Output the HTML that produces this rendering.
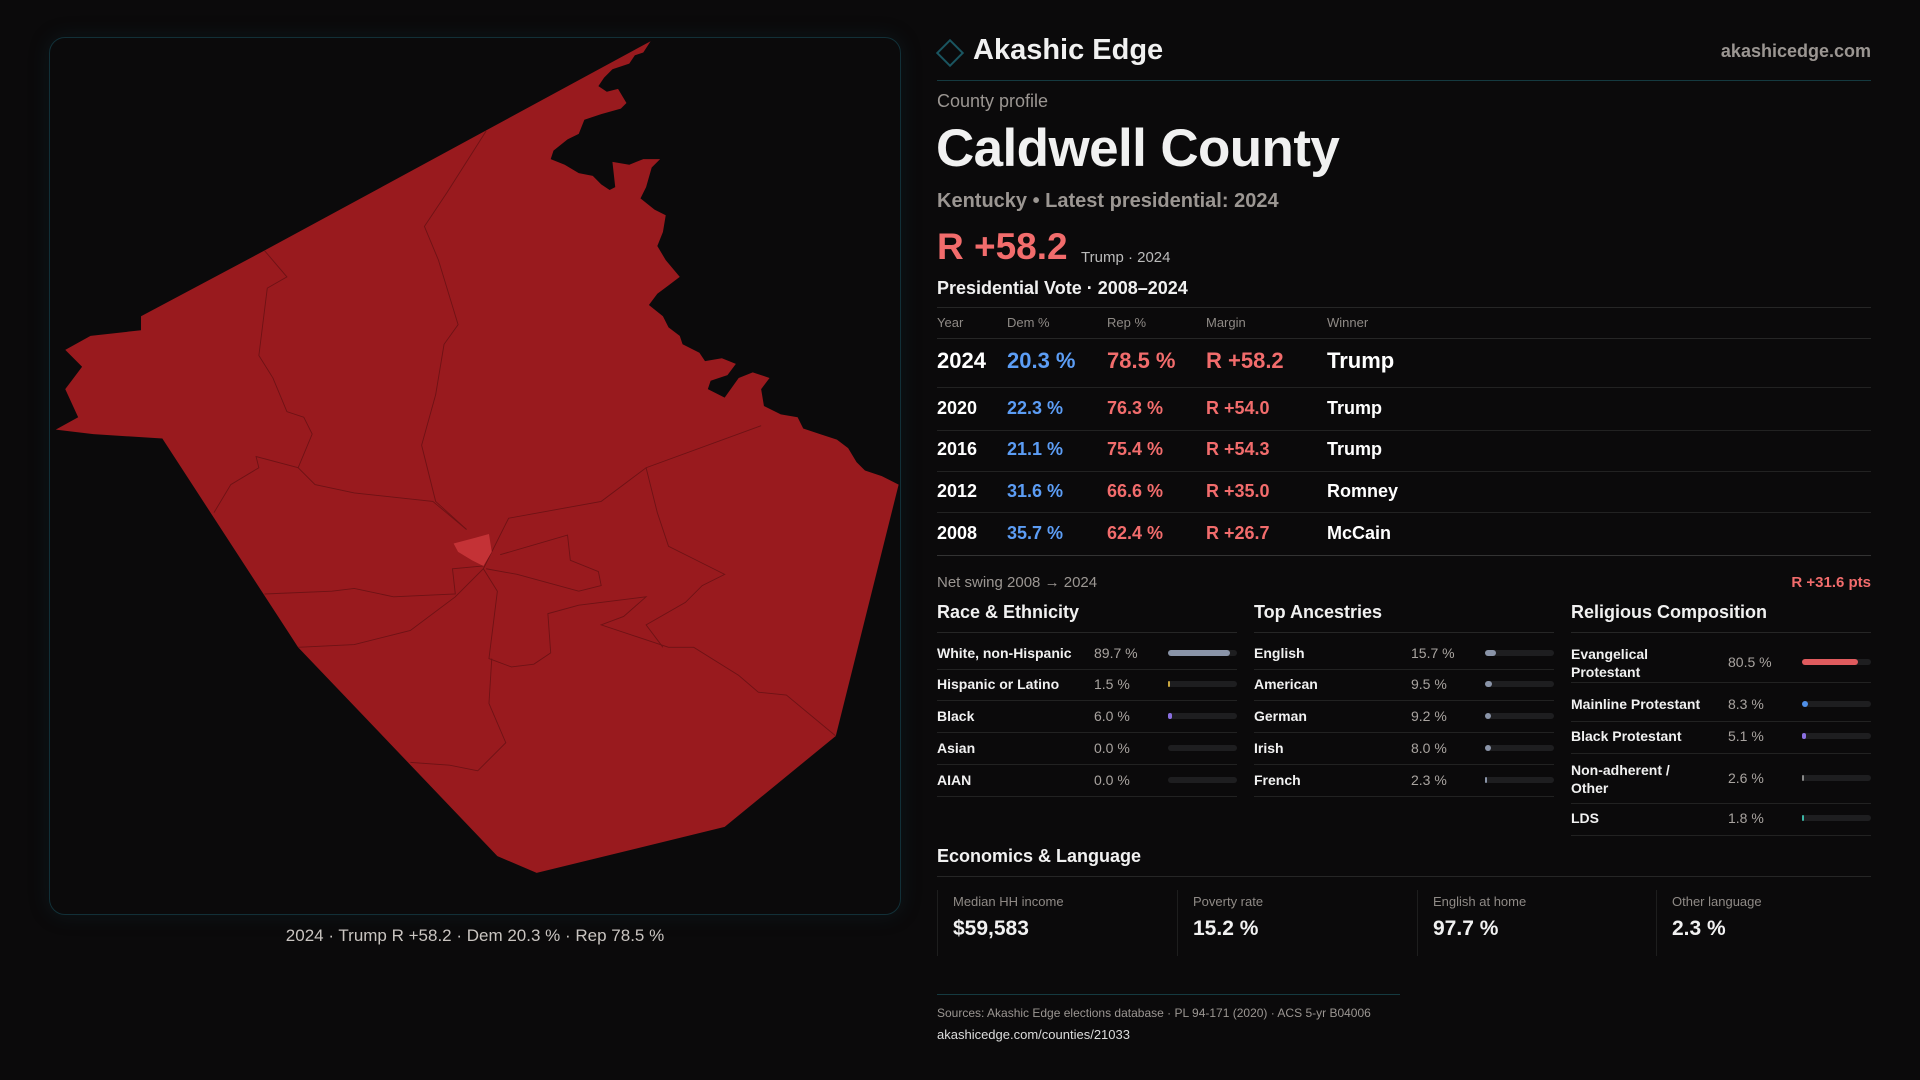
<!DOCTYPE html>
<html><head><meta charset="utf-8"><style>
*{margin:0;padding:0;box-sizing:border-box}
body{width:1920px;height:1080px;background:#0b0a0b;font-family:"Liberation Sans",sans-serif;color:#f1f1f1;position:relative;overflow:hidden}
.a{position:absolute;white-space:nowrap;line-height:1}
.hl{position:absolute;height:1px;background:#262626}
.mut{color:#9b9692}
</style></head><body>
<div class="a" style="left:49px;top:37px;width:852px;height:878px;border:1px solid #123038;border-radius:16px;background:#0b0a0b;box-shadow:0 0 20px rgba(20,60,70,.25)"></div>
<svg class="a" style="left:0;top:0" width="1920" height="1080">
<g transform="translate(40,30) scale(0.5612)">
<path fill="#991a1e" d="M1088,20 L1075,40 1060,45 1050,60 1020,70 1005,85 995,100 1010,110 1030,105 1045,130 1035,140 1000,150 970,160 960,185 940,195 915,215 910,230 935,240 960,255 985,260 1000,275 1015,285 1025,280 1020,235 1050,240 1075,230 1105,230 1090,245 1080,280 1070,300 1095,320 1115,330 1110,360 1100,385 1115,410 1140,440 1120,455 1100,470 1085,490 1110,510 1120,530 1140,545 1145,560 1175,575 1185,590 1215,585 1240,595 1225,615 1195,625 1190,640 1220,655 1245,620 1270,610 1300,620 1285,640 1290,670 1320,685 1350,690 1360,710 1390,720 1420,730 1440,745 1455,770 1470,785 1500,795 1530,810 1418,1258 1220,1420 885,1502 815,1472 460,1100 218,728 95,720 28,712 68,690 45,640 75,600 45,570 90,545 180,535 180,510 400,393 Z"/>
<g fill="none" stroke="#6e1215" stroke-width="1.6">
<polyline points="795,180 725,290 685,350 710,410 745,525 720,560 705,650 680,740 705,840 760,890"/>
<polyline points="400,393 440,440 405,460 390,580 415,620 440,680 470,690 485,720 460,780 490,810 560,825 700,840 760,890"/>
<polyline points="310,860 340,810 390,780 385,760 460,780"/>
<polyline points="400,1005 520,1000 560,995 630,1010 740,1005 735,960 790,955"/>
<polyline points="460,1100 560,1095 660,1070 740,1010 790,960 830,880 835,870 1000,840 1080,780 1285,705"/>
<polyline points="790,960 815,1000 800,1120 840,1135 880,1130 910,1110 905,1040 960,1025 1080,1010 1040,1045 1000,1060 1120,1100 1165,1100 1245,1150 1280,1180 1330,1185 1418,1258"/>
<polyline points="805,1120 800,1200 830,1270 780,1320 730,1310 660,1305"/>
<polyline points="1080,780 1100,860 1120,920 1160,940 1220,970 1180,990 1150,1020 1080,1060 1110,1100"/>
<polyline points="820,935 940,900 945,945 995,965 1000,990 960,1000 850,970 795,960"/>
</g>
<path fill="#c43236" d="M737,915 775,905 800,898 805,930 790,955 770,945 745,930Z"/>
</g></svg>
<div class="a" style="left:49px;width:852px;text-align:center;top:927px;font-size:17px;color:#c9c4c0">2024 · Trump R +58.2 · Dem 20.3 % · Rep 78.5 %</div>

<div class="a" style="left:940px;top:43px;width:20px;height:20px;border:2px solid #1a5560;transform:rotate(45deg)"></div>
<div class="a" style="left:973px;top:36px;font-size:29px;font-weight:bold">Akashic Edge</div>
<div class="a mut" style="right:49px;top:42px;font-size:18px;font-weight:bold">akashicedge.com</div>
<div class="hl" style="left:937px;width:934px;top:80px;background:#153a40"></div>
<div class="a mut" style="left:937px;top:92px;font-size:18px">County profile</div>
<div class="a" style="left:936px;top:122px;font-size:53px;font-weight:bold;letter-spacing:-0.6px">Caldwell County</div>
<div class="a mut" style="left:937px;top:191px;font-size:20px;font-weight:bold">Kentucky • Latest presidential: 2024</div>
<div class="a" style="left:937px;top:228px;font-size:37px;font-weight:bold;color:#f26c6c">R +58.2</div>
<div class="a" style="left:1081px;top:250px;font-size:15px;color:#bbb">Trump · 2024</div>
<div class="a" style="left:937px;top:279px;font-size:18px;font-weight:bold">Presidential Vote · 2008–2024</div>
<div class="hl" style="left:937px;width:934px;top:307px"></div>
<div id="table"></div>
<div class="a mut" style="left:937px;top:575px;font-size:15px">Net swing 2008 → 2024</div>
<div class="a" style="right:49px;top:575px;font-size:15px;font-weight:bold;color:#f26c6c">R +31.6 pts</div>
<div id="demo"></div>
<div class="a" style="left:937px;top:847px;font-size:18px;font-weight:bold">Economics &amp; Language</div>
<div class="hl" style="left:937px;width:934px;top:876px"></div>
<div id="econ"></div>
<div class="hl" style="left:937px;width:463px;top:994px;background:#153a40"></div>
<div class="a mut" style="left:937px;top:1007px;font-size:12px">Sources: Akashic Edge elections database · PL 94-171 (2020) · ACS 5-yr B04006</div>
<div class="a" style="left:937px;top:1028px;font-size:13px;color:#ddd">akashicedge.com/counties/21033</div>
<script>
const years=[2024,2020,2016,2012,2008];
const demPct=[20.3,22.3,21.1,31.6,35.7];
const repPct=[78.5,76.3,75.4,66.6,62.4];
const winners=["Trump","Trump","Trump","Romney","McCain"];
const raceLabels=["White, non-Hispanic","Hispanic or Latino","Black","Asian","AIAN"];
const raceValues=[89.7,1.5,6.0,0.0,0.0];
const raceColors=["#8a94a8","#c9a640","#8a6fe0","#555","#555"];
const ancLabels=["English","American","German","Irish","French"];
const ancValues=[15.7,9.5,9.2,8.0,2.3];
const relLabels=["Evangelical<br>Protestant","Mainline Protestant","Black Protestant","Non-adherent /<br>Other","LDS"];
const relValues=[80.5,8.3,5.1,2.6,1.8];
const relColors=["#e05b5e","#4f8fe8","#8a6fe0","#888","#3bb5a5"];
const econLabels=["Median HH income","Poverty rate","English at home","Other language"];
const econValues=["$59,583","15.2 %","97.7 %","2.3 %"];

function mk(parent,css,text){const d=document.createElement('div');d.className='a';d.style.cssText=css;if(text!==undefined)d.innerHTML=text;parent.appendChild(d);return d;}
const T=document.getElementById('table');
const cols=[937,1007,1107,1206,1327];
["Year","Dem %","Rep %","Margin","Winner"].forEach((h,i)=>{const e=mk(T,`left:${cols[i]}px;top:316px;font-size:13px;color:#8f8a86`,h);

});
mk(T,'left:937px;width:934px;top:338px;height:1px;background:#262626');
const rowY=[361,408,449,491,533], rowLine=[387,430,471,512,555];
years.forEach((y,i)=>{
 const fs=i==0?22:18, top=rowY[i]-fs/2;
 const m=(repPct[i]-demPct[i]).toFixed(1);
 const vals=[y,demPct[i].toFixed(1)+" %",repPct[i].toFixed(1)+" %","R +"+m,winners[i]];
 const clr=["#fff","#5c9df5","#f26c6c","#f26c6c","#fff"];
 vals.forEach((v,j)=>{const e=mk(T,`left:${cols[j]}px;top:${top}px;font-size:${fs}px;font-weight:bold;color:${clr[j]}`,v);
 
 });
 const l=mk(T,`left:937px;width:934px;top:${rowLine[i]}px;height:1px;background:${i==4?'#333':'#222'}`);
 
 
});
const D=document.getElementById('demo');
function section(x,title,labels,values,colors,ys,lines){
 const h=mk(D,`left:${x}px;top:603px;font-size:18px;font-weight:bold`,title);
 
 
 mk(D,`left:${x}px;width:300px;top:632px;height:1px;background:#262626`);
 labels.forEach((lab,i)=>{
  const cy=ys[i];
  const two=lab.includes('<br>');
  const le=mk(D,`left:${x}px;top:${cy-(two?17:7)}px;font-size:14px;font-weight:bold;line-height:${two?'18px':'1'}`,lab);
  
  
  const ve=mk(D,`left:${x+157}px;top:${cy-7}px;font-size:14px;color:#a9a4a0`,values[i].toFixed(1)+" %");
  
  
  const tr=mk(D,`left:${x+231}px;top:${cy-3}px;width:69px;height:6px;border-radius:3px;background:#1e1e20`);
  
  
  const w=Math.max(2,69*values[i]/100);
  const b=mk(D,`left:${x+231}px;top:${cy-3}px;width:${values[i]>0?w:0}px;height:6px;border-radius:3px;background:${colors[i]}`);
  
  
  mk(D,`left:${x}px;width:300px;top:${lines[i]}px;height:1px;background:#222`);
 });
}
const ys=[653,684,716,748,780], ls=[669,700,732,764,796];
section(937,"Race &amp; Ethnicity",raceLabels,raceValues,raceColors,ys,ls);
section(1254,"Top Ancestries",ancLabels,ancValues,ancLabels.map(()=>"#8a94a8"),ys,ls);
section(1571,"Religious Composition",relLabels,relValues,relColors,[662,704,736,778,818],[682,721,753,803,835]);
const E=document.getElementById('econ');
const cx=[937,1177,1417,1656];
econLabels.forEach((lab,i)=>{
 mk(E,`left:${cx[i]}px;top:890px;width:1px;height:66px;background:#1e1e1e`);
 const l=mk(E,`left:${cx[i]+16}px;top:895px;font-size:13px;color:#8f8a86`,lab);
 
 
 const v=mk(E,`left:${cx[i]+16}px;top:918px;font-size:21px;font-weight:bold`,econValues[i]);
 
 
});
</script>
</body></html>
